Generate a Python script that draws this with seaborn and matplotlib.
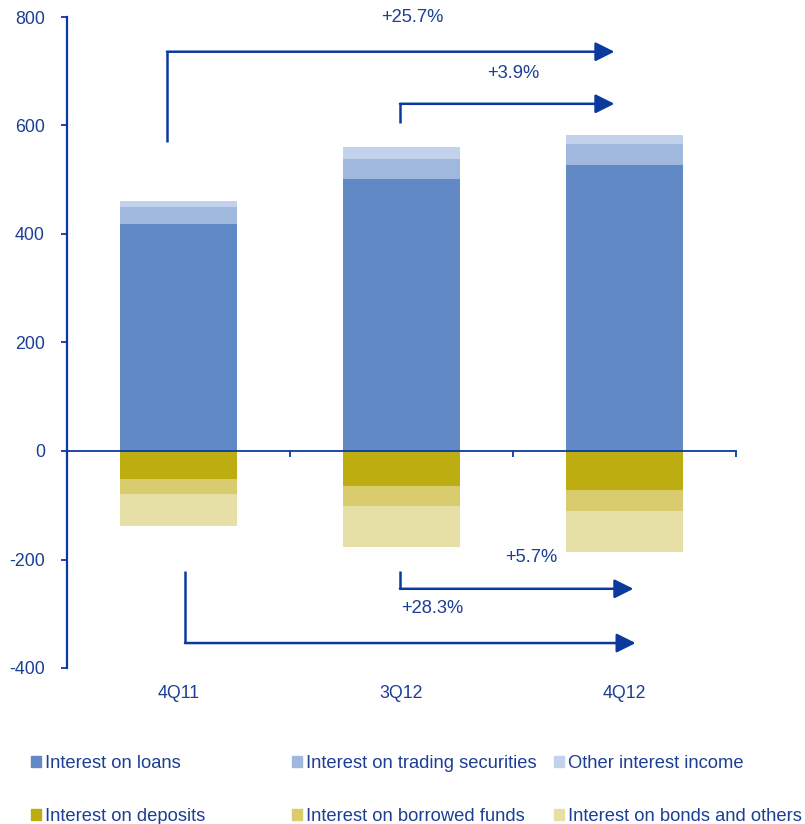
import matplotlib
matplotlib.use("Agg")
import matplotlib.pyplot as plt
import matplotlib.patches as mpatches
import numpy as np
import seaborn as sns

# Quarterly interest income (positive) and interest expense (negative), RUB bn
quarters = ["4Q11", "3Q12", "4Q12"]
loans = [418, 501, 527]
trading_securities = [31, 37, 39]
other_income = [12, 22, 16]
deposits = [-52, -65, -72]
borrowed_funds = [-27, -36, -38]
bonds_and_others = [-60, -76, -77]

income_growth = ["+25.7%", "+3.9%"]
expense_growth = ["+5.7%", "+28.3%"]

yticks = [-400, -200, 0, 200, 400, 600, 800]

names = [
    "Interest on loans", "Interest on trading securities", "Other interest income",
    "Interest on deposits", "Interest on borrowed funds", "Interest on bonds and others",
]
colors = ["#6089C6", "#A1B8DE", "#C2D2EC", "#BDAD11", "#D8CC6E", "#E6E0A6"]

LINE = "#0B3A9E"
TEXT = "#1C3F94"

sns.set_theme(style="white")
plt.rcParams["font.family"] = ["Liberation Sans", "DejaVu Sans"]
FS = 12.8
FS_NOTE = 13.2
FS_LEG = 13.2

fig = plt.figure(figsize=(8.05, 8.24), dpi=100)
ax = fig.add_axes([67 / 805, 1 - 668 / 824, (736 - 67) / 805, (668 - 17) / 824])

# Stacks drawn as overlapping cumulative totals, largest first
pos = np.array([loans, trading_securities, other_income], dtype=float)
neg = np.array([deposits, borrowed_funds, bonds_and_others], dtype=float)
pos_cum = np.cumsum(pos, axis=0)
neg_cum = np.cumsum(neg, axis=0)

W = 0.525
for k in [2, 1, 0]:
    sns.barplot(x=quarters, y=pos_cum[k], color=colors[k], width=W,
                saturation=1, ax=ax, linewidth=0)
for k in [2, 1, 0]:
    sns.barplot(x=quarters, y=neg_cum[k], color=colors[3 + k], width=W,
                saturation=1, ax=ax, linewidth=0)

ax.set_xlim(-0.5, 2.5)
ax.set_ylim(-400, 800)
ax.set_xlabel("")
ax.set_ylabel("")

# Axes styling: y spine on the left, x axis line through zero
for s in ["top", "right"]:
    ax.spines[s].set_visible(False)
ax.spines["left"].set_color(LINE)
ax.spines["left"].set_linewidth(1.6)
ax.spines["bottom"].set_position(("data", 0))
ax.spines["bottom"].set_color(LINE)
ax.spines["bottom"].set_linewidth(1.3)
ax.set_yticks(yticks)
ax.set_yticklabels([str(v) for v in yticks])
ax.tick_params(axis="y", direction="out", length=4, width=1.3, color=LINE,
               labelcolor=TEXT, labelsize=FS, pad=12, left=True)
ax.set_xticks([-0.5, 0.5, 1.5, 2.5])
ax.set_xticklabels([])
ax.tick_params(axis="x", direction="out", length=4, width=1.3, color=LINE, bottom=True)

sec = ax.secondary_xaxis(0.0)
sec.set_xticks(range(len(quarters)))
sec.set_xticklabels(quarters)
sec.spines["bottom"].set_visible(False)
sec.tick_params(axis="x", length=0, labelcolor=TEXT, labelsize=FS, pad=12)

# Growth arrows
def growth_arrow(x0, y_start, y_turn, x_tip, label, lx, ly):
    ax.plot([x0, x0], [y_start, y_turn], color=LINE, lw=1.8,
            solid_capstyle="butt", clip_on=False)
    ax.annotate("", xy=(x_tip, y_turn), xytext=(x0, y_turn),
                arrowprops=dict(arrowstyle="-|>,head_length=0.8,head_width=0.4",
                                color=LINE, lw=1.8, shrinkA=0, shrinkB=0,
                                mutation_scale=14.5),
                annotation_clip=False)
    ax.text(lx, ly, label, color=TEXT, fontsize=FS_NOTE, ha="center", va="center")

growth_arrow(-0.052, 570, 736, 1.955, income_growth[0], 1.05, 800)
growth_arrow(0.993, 605, 640, 1.955, income_growth[1], 1.5, 695)
growth_arrow(0.993, -222, -254, 2.04, expense_growth[0], 1.58, -197)
growth_arrow(0.029, -222, -354, 2.05, expense_growth[1], 1.14, -290)

# Legend: three columns, two rows
handles = [mpatches.Patch(color=c, label=n) for c, n in zip(colors, names)]
col_x = [31, 292, 554]
for i, x in enumerate(col_x):
    fig.legend(handles=[handles[i], handles[i + 3]], loc="upper left",
               bbox_to_anchor=(x / 805, 1 - 755 / 824), frameon=False,
               fontsize=FS_LEG, labelcolor=TEXT, handlelength=0.55, handleheight=0.55,
               handletextpad=0.2, labelspacing=1.95, borderpad=0, borderaxespad=0)

fig.savefig("out.png", dpi=100)
